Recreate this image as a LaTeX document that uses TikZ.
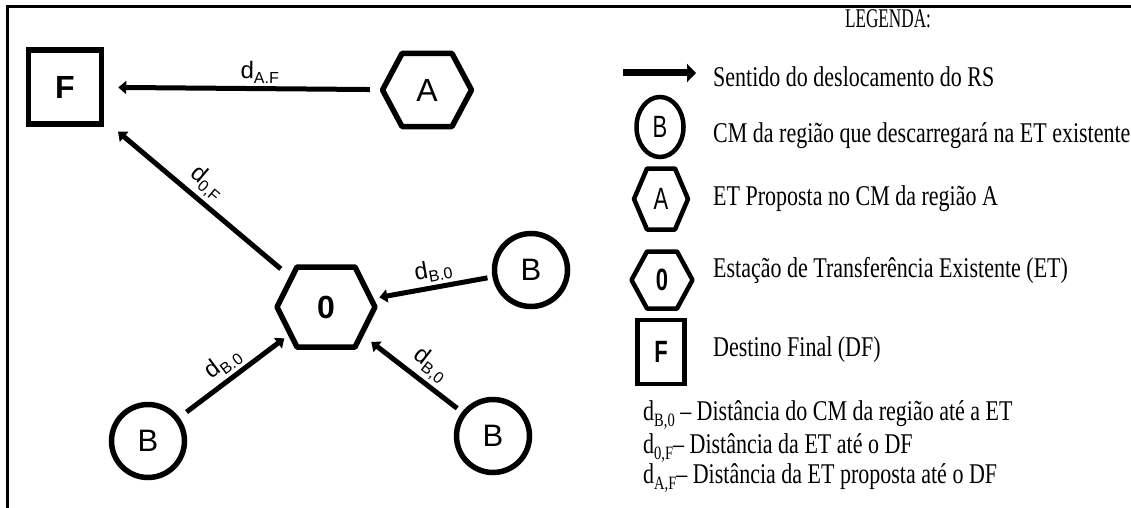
\documentclass[tikz,border=0pt]{standalone}
\usepackage{fontspec}
\usepackage{graphicx}
\setmainfont{Liberation Serif}
\newfontfamily\arial{Liberation Sans}
\usetikzlibrary{arrows.meta,calc,shapes.geometric}
\newcommand\hexat[5][]{\draw[hexline,#1] ($(#2)+(-#3,0)$) -- ($(#2)+(-#5,-#4)$) -- ($(#2)+(#5,-#4)$) -- ($(#2)+(#3,0)$) -- ($(#2)+(#5,#4)$) -- ($(#2)+(-#5,#4)$) -- cycle;}
\newcommand\vst[1]{\scalebox{1}[1.3]{#1}}
\newcommand\lsub[1]{\raisebox{-0.2em}{\fontsize{16}{16}\selectfont #1}}
\newcommand\tsub[1]{\raisebox{-0.22em}{\fontsize{14.5}{14.5}\selectfont #1}}
\begin{document}
\begin{tikzpicture}[x=1pt,y=-1pt,
  hexline/.style={line width=5.5pt, line join=round},
  ring/.style={circle, draw, line width=5.5pt, minimum size=73pt, inner sep=0pt, font=\arial\fontsize{31}{31}\selectfont},
  hexnode/.style={circle, minimum size=#1, inner sep=0pt, font=\arial\fontsize{32}{32}\selectfont},
  box/.style={rectangle, draw, line width=5.5pt, minimum width=73pt, minimum height=74pt, inner sep=0pt, font=\arial\bfseries\fontsize{32}{32}\selectfont},
  conn/.style={line width=5pt, -{Triangle[length=8pt,width=13pt]}},
  lab/.style={font=\arial\fontsize{24}{24}\selectfont, sloped, above, inner sep=3pt},
  legtext/.style={anchor=base west, inner sep=0pt, font=\fontsize{22}{22}\selectfont},
  legsym/.style={draw, line width=4.5pt, inner sep=0pt, font=\arial\fontsize{22}{22}\selectfont},
  legletter/.style={inner sep=0pt, font=\arial\fontsize{22}{22}\selectfont}
]
\useasboundingbox (0,0) rectangle (1131,508);
\fill[white] (0,0) rectangle (1131,508);
% frame
\coordinate (fr1) at (1131,7);
\coordinate (fr2) at (7,7);
\coordinate (fr3) at (7,508);
\draw[line width=3pt] (fr1) -- (fr2) -- (fr3);

% main nodes
\node[box] (F) at (65,87) {F};
\node[hexnode=100pt] (A) at (427,90) {A};
\hexat{A}{44.5}{36.5}{25}
\node[hexnode=104pt] (O) at (326,307) {\bfseries 0};
\hexat{O}{49}{40}{29}
\node[ring] (Btr) at (531,270) {B};
\node[ring] (Bbl) at (148,441) {B};
\node[ring] (Bbr) at (493,436) {B};

% connectors
\draw[conn, shorten <=7pt, shorten >=14pt] (A) -- (F) node[lab, pos=0.43] {d\lsub{A.F}};
\draw[conn, shorten <=7pt, shorten >=18pt] (O) -- (F) node[lab, pos=0.5] {d\lsub{0,F}};
\draw[conn, shorten <=9pt, shorten >=0pt] (Bbl) -- (O) node[lab, pos=0.51] {d\lsub{B.0}};
\draw[conn, shorten <=6pt, shorten >=5pt] (Bbr) -- (O) node[lab, pos=0.45] {d\lsub{B,0}};
\draw[conn, shorten <=5pt, shorten >=2pt] (Btr) -- (O) node[lab, pos=0.49] {d\lsub{B.0}};

% legend
\node[font=\fontsize{20}{20}\selectfont, inner sep=0pt] (leg) at (888,19) {\scalebox{0.86}[1.35]{LEGENDA:}};
\coordinate (la1) at (623,73);
\coordinate (la2) at (696,73);
\draw[line width=7pt, -{Triangle[length=9pt,width=18pt]}] (la1) -- (la2);
\node[legtext] (t1) at (713,87) {\vst{Sentido do deslocamento do RS}};

\node[legletter] (lB) at (660,127) {\scalebox{1}[1.4]{B}};
\draw[line width=4.5pt] (lB) ellipse [x radius=23.5, y radius=30];
\node[legtext] (t2) at (713,142) {\vst{CM da região que descarregará na ET existente}};

\node[legletter] (lA) at (661,199) {\scalebox{1}[1.4]{A}};
\hexat[line width=4.5pt]{lA}{27}{30.5}{14}
\node[legtext] (t3) at (713,205) {\vst{ET Proposta no CM da região A}};

\node[legletter, font=\arial\bfseries\fontsize{22}{22}\selectfont] (lO) at (662,280) {\scalebox{1}[1.4]{0}};
\hexat[line width=4.5pt]{lO}{30.5}{28.5}{15}
\node[legtext] (t4) at (713,277) {\vst{Estação de Transferência Existente (ET)}};

\node[legsym, rectangle, minimum width=47pt, minimum height=64pt, font=\arial\bfseries\fontsize{22}{22}\selectfont] (lF) at (661,352) {\scalebox{1}[1.4]{F}};
\node[legtext] (t5) at (713,356) {\vst{Destino Final (DF)}};

\node[legtext] (d1) at (643,420) {\vst{d\tsub{B,0} – Distância do CM da região até a ET}};
\node[legtext] (d2) at (643,453) {\vst{d\tsub{0,F}– Distância da ET até o DF}};
\node[legtext] (d3) at (643,483) {\vst{d\tsub{A,F}– Distância da ET proposta até o DF}};
\end{tikzpicture}
\end{document}
